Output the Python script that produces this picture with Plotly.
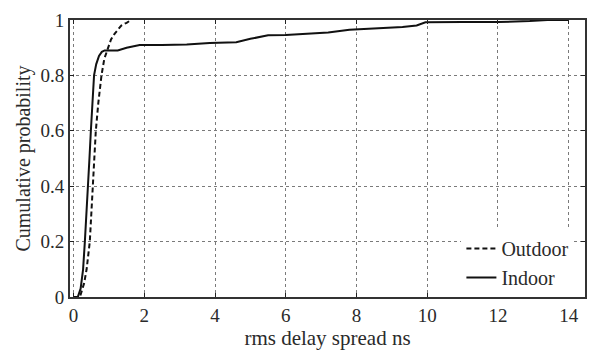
import plotly.graph_objects as go

# Data
indoor_x = [0, 0.12, 0.2, 0.27, 0.32, 0.37, 0.41, 0.45, 0.49, 0.54, 0.58, 0.64, 0.72, 0.8, 0.88, 1.0,
            1.25, 1.5, 1.87, 2.5, 3.2, 3.85, 4.3, 4.6, 5.0, 5.5, 6.0, 6.6, 7.2, 7.8, 8.6, 9.3, 9.7,
            9.95, 11.0, 12.0, 12.9, 13.4, 14.0]
indoor_y = [0, 0, 0.03, 0.1, 0.2, 0.3, 0.4, 0.5, 0.6, 0.7, 0.8, 0.84, 0.87, 0.885, 0.89, 0.89,
            0.89, 0.9, 0.91, 0.91, 0.912, 0.917, 0.92, 0.92, 0.932, 0.945, 0.946, 0.95, 0.955,
            0.965, 0.969, 0.975, 0.98, 0.992, 0.993, 0.993, 0.996, 1.0, 1.0]

outdoor_x = [0, 0.18, 0.3, 0.37, 0.46, 0.5, 0.55, 0.59, 0.63, 0.7, 0.79, 0.87, 0.97, 1.06, 1.16,
             1.25, 1.35, 1.5, 1.63]
outdoor_y = [0, 0, 0.05, 0.1, 0.2, 0.3, 0.4, 0.5, 0.6, 0.7, 0.8, 0.86, 0.9, 0.93, 0.95,
             0.965, 0.98, 0.99, 1.0]

x_ticks = [0, 2, 4, 6, 8, 10, 12, 14]
y_ticks = [0, 0.2, 0.4, 0.6, 0.8, 1]
y_tick_labels = ["0", "0.2", "0.4", "0.6", "0.8", "1"]

FONT = "Liberation Serif, Times New Roman, serif"
TXT = "#2a2a2a"

fig = go.Figure()
fig.add_trace(go.Scatter(x=outdoor_x, y=outdoor_y, mode="lines", name="Outdoor",
                         line=dict(color="#111", width=2, dash="5px,3px")))
fig.add_trace(go.Scatter(x=indoor_x, y=indoor_y, mode="lines", name="Indoor",
                         line=dict(color="#111", width=2)))

axis_common = dict(
    showline=True, linecolor="#333", linewidth=2, mirror="ticks",
    ticks="inside", ticklen=4, tickcolor="#222",
    showgrid=True, gridcolor="#7a7a7a", griddash="dot", gridwidth=1,
    zeroline=False, tickfont=dict(family=FONT, size=19, color=TXT),
)

fig.update_xaxes(range=[-0.1, 14.46], tickvals=x_ticks,
                 title=dict(text="rms delay spread ns", font=dict(family=FONT, size=21, color=TXT),
                            standoff=0),
                 **axis_common)
fig.update_yaxes(range=[0, 1], tickvals=y_ticks, ticktext=y_tick_labels,
                 title=dict(text="Cumulative probability", font=dict(family=FONT, size=20, color=TXT),
                            standoff=4),
                 **axis_common)

fig.update_layout(
    width=597, height=350,
    margin=dict(l=70, r=10, t=10, b=52),
    paper_bgcolor="white", plot_bgcolor="white",
    font=dict(family=FONT, size=19, color=TXT),
    showlegend=True,
    legend=dict(x=0.76, y=0.0, xanchor="left", yanchor="bottom",
                bgcolor="white", borderwidth=0, itemwidth=30,
                font=dict(family=FONT, size=20, color=TXT),
                tracegroupgap=0),
)

fig.write_html("out.html")
